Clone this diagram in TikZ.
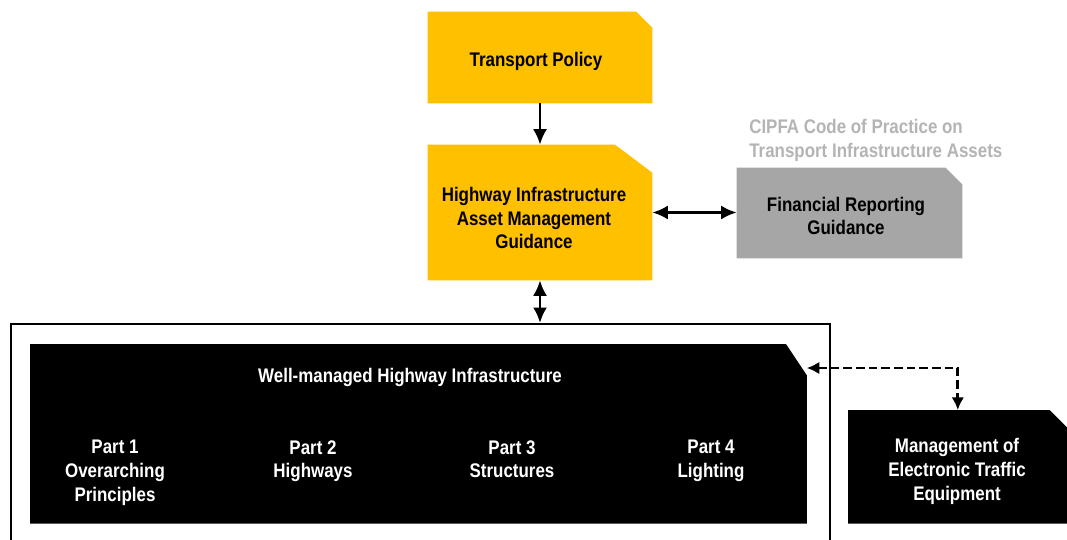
\documentclass[tikz,border=0pt]{standalone}
\usepackage{fontspec}
\setmainfont{Liberation Sans}[FakeStretch=0.86]
\usetikzlibrary{positioning,calc}
\usetikzlibrary{backgrounds,arrows.meta}

\definecolor{amber}{HTML}{FFC000}
\definecolor{midgrey}{HTML}{A6A6A6}
\definecolor{lightgrey}{HTML}{B4B4B4}

% filled box with the top right corner cut off
\newcommand{\docfill}[4]{\fill[#2] (#1.south west) -- (#1.north west) -- ([xshift=-#3]#1.north east) -- ([yshift=-#4]#1.north east) -- (#1.south east) -- cycle;}

\begin{document}
\begin{tikzpicture}[x=0.025cm, y=-0.025cm, >={Latex[length=11pt,width=10pt]},
  font=\bfseries\fontsize{14}{17}\selectfont,
  doc/.style={align=center, inner sep=0pt},
  box/.style={inner sep=0pt},
  link/.style={line width=2pt}]
\useasboundingbox (0,0) rectangle (1067,540);
\clip (0,0) rectangle (1067,540);

\node (tp) [box, minimum width=5.6cm, minimum height=2.275cm] at (540,57.5) {};
\node (tp text) [doc] at (536,61) {Transport Policy};
\node (hiam) [box, minimum width=5.6cm, minimum height=3.375cm] at (540,212.5) {};
\node (hiam text) [doc] at (534,218) {Highway Infrastructure\\Asset Management\\Guidance};
\node (frg) [box, minimum width=5.625cm, minimum height=2.25cm] at (849.5,213) {};
\node (frg text) [doc] at (846,216) {Financial Reporting\\Guidance};
\node (cipfa) [anchor=west, align=left, inner sep=0pt, text=lightgrey] at (749,140) {CIPFA Code of Practice on\\Transport Infrastructure Assets};

\node (frame) [draw, line width=1.4pt, minimum width=20.475cm, minimum height=6cm, anchor=north west] at (10,323) {};
\node (wmhi) [box, minimum width=19.4cm, minimum height=4.475cm, anchor=north west] at (30,344) {};
\node (wtitle) [text=white] at (410,377) {Well-managed Highway Infrastructure};
\foreach \x/\n/\t in {115/1/{Overarching\\Principles}, 313/2/Highways, 512/3/Structures, 711/4/Lighting}
  \node (part\n) [doc, anchor=north, text=white] at (\x,440) {Part \n\\\t};

\node (mete) [box, minimum width=5.475cm, minimum height=2.825cm, anchor=north west] at (848,410) {};
\node (mete text) [doc, text=white] at (957,471) {Management of\\Electronic Traffic\\Equipment};

\begin{scope}[on background layer]
\docfill{tp}{amber}{0.4cm}{0.4cm}
\docfill{hiam}{amber}{0.93cm}{0.7cm}
\docfill{frg}{midgrey}{0.42cm}{0.42cm}
\docfill{wmhi}{black}{0.52cm}{0.78cm}
\docfill{mete}{black}{0.45cm}{0.45cm}
\end{scope}

\draw[->, link] (tp) -- (hiam);
\draw[<->, link] (hiam.east) -- (hiam.east -| frg.west);
\draw[<->, link] (hiam.south) -- (hiam.south |- frame.north);
\coordinate (dtip) at ([yshift=-0.6cm]wmhi.north east);
\draw[{Latex[length=9pt,width=9pt]}-{Latex[length=9pt,width=9pt]}, link, dash pattern=on 6pt off 3pt] (dtip) -| (mete.north);
\end{tikzpicture}
\end{document}
